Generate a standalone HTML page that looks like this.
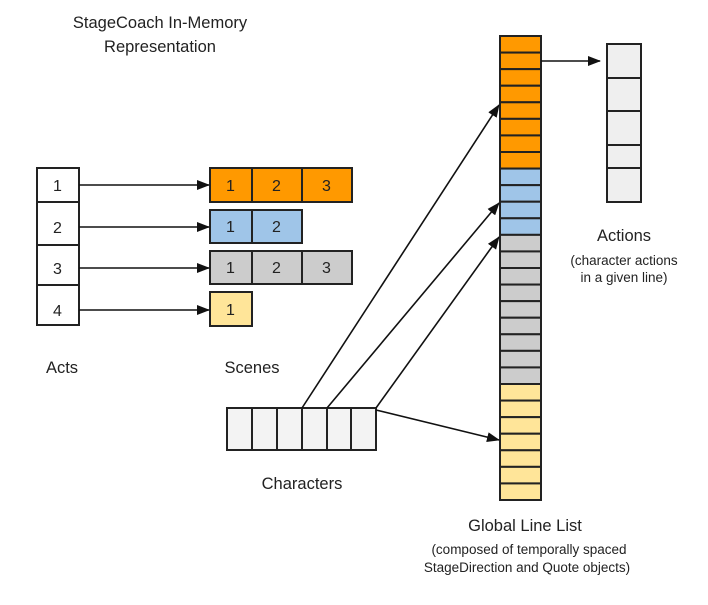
<!DOCTYPE html>
<html><head><meta charset="utf-8"><style>
html,body{margin:0;padding:0;background:#fff;}
svg{display:block;}
text{font-family:"Liberation Sans",Arial,sans-serif;fill:#222;}
</style></head><body>
<svg id="s" width="708" height="605" viewBox="0 0 708 605" xmlns="http://www.w3.org/2000/svg">
<defs><marker id="a" markerWidth="13" markerHeight="10" refX="12" refY="5" orient="auto" markerUnits="userSpaceOnUse"><path d="M0,0 L13,5 L0,10 z" fill="#111"/></marker></defs>
<g stroke="#222" stroke-width="2">
<rect x="37" y="168" width="42" height="157" fill="#fff"/>
<line x1="37" y1="202" x2="79" y2="202"/><line x1="37" y1="245" x2="79" y2="245"/><line x1="37" y1="285" x2="79" y2="285"/>
<rect x="210" y="168" width="142" height="34" fill="#ff9900"/>
<line x1="252" y1="168" x2="252" y2="202"/><line x1="302" y1="168" x2="302" y2="202"/>
<rect x="210" y="210" width="92" height="33" fill="#9fc5e8"/>
<line x1="252" y1="210" x2="252" y2="243"/>
<rect x="210" y="251" width="142" height="33" fill="#cccccc"/>
<line x1="252" y1="251" x2="252" y2="284"/><line x1="302" y1="251" x2="302" y2="284"/>
<rect x="210" y="292" width="42" height="34" fill="#ffe599"/>
<rect x="227" y="408" width="149" height="42" fill="#f3f3f3"/>
<line x1="252" y1="408" x2="252" y2="450"/><line x1="277" y1="408" x2="277" y2="450"/><line x1="302" y1="408" x2="302" y2="450"/><line x1="327" y1="408" x2="327" y2="450"/><line x1="351" y1="408" x2="351" y2="450"/>
<rect x="607" y="44" width="34" height="158" fill="#efefef"/>
<line x1="607" y1="78" x2="641" y2="78"/><line x1="607" y1="111" x2="641" y2="111"/><line x1="607" y1="145" x2="641" y2="145"/><line x1="607" y1="168" x2="641" y2="168"/>
<g id="gl"></g>
</g>
<g stroke="#111" stroke-width="1.6" fill="none">
<line x1="79" y1="185" x2="209" y2="185" marker-end="url(#a)"/>
<line x1="79" y1="227" x2="209" y2="227" marker-end="url(#a)"/>
<line x1="79" y1="268" x2="209" y2="268" marker-end="url(#a)"/>
<line x1="79" y1="310" x2="209" y2="310" marker-end="url(#a)"/>
<line x1="541" y1="61" x2="600" y2="61" marker-end="url(#a)"/>
<line x1="302" y1="408" x2="499" y2="105" marker-end="url(#a)"/>
<line x1="327" y1="408" x2="499" y2="203" marker-end="url(#a)"/>
<line x1="376" y1="408" x2="499" y2="237" marker-end="url(#a)"/>
<line x1="376" y1="410" x2="499" y2="440" marker-end="url(#a)"/>
</g>
<g font-size="16">
<text x="53" y="191">1</text><text x="53" y="233">2</text><text x="53" y="274">3</text><text x="53" y="316">4</text>
<text x="226" y="191">1</text><text x="272" y="191">2</text><text x="322" y="191">3</text>
<text x="226" y="232">1</text><text x="272" y="232">2</text>
<text x="226" y="273">1</text><text x="272" y="273">2</text><text x="322" y="273">3</text>
<text x="226" y="315">1</text>
</g>
<g font-size="16.5" text-anchor="middle">
<text x="160" y="28">StageCoach In-Memory</text>
<text x="160" y="52">Representation</text>
<text x="62" y="373">Acts</text>
<text x="252" y="373">Scenes</text>
<text x="302" y="489">Characters</text>
<text x="525" y="531">Global Line List</text>
<text x="624" y="241">Actions</text>
</g>
<g font-size="13.5" text-anchor="middle">
<text x="529" y="554">(composed of temporally spaced</text>
<text x="527" y="572">StageDirection and Quote objects)</text>
<text x="624" y="265">(character actions</text>
<text x="624" y="282">in a given line)</text>
</g>
<script>
var g=document.getElementById('gl'),h=464/28,c;
for(var i=0;i<28;i++){c=i<8?'#ff9900':i<12?'#9fc5e8':i<21?'#cccccc':'#ffe599';
var r=document.createElementNS('http://www.w3.org/2000/svg','rect');
r.setAttribute('x',500);r.setAttribute('y',36+i*h);r.setAttribute('width',41);r.setAttribute('height',h);r.setAttribute('fill',c);g.appendChild(r);}
</script>
</svg>
</body></html>
